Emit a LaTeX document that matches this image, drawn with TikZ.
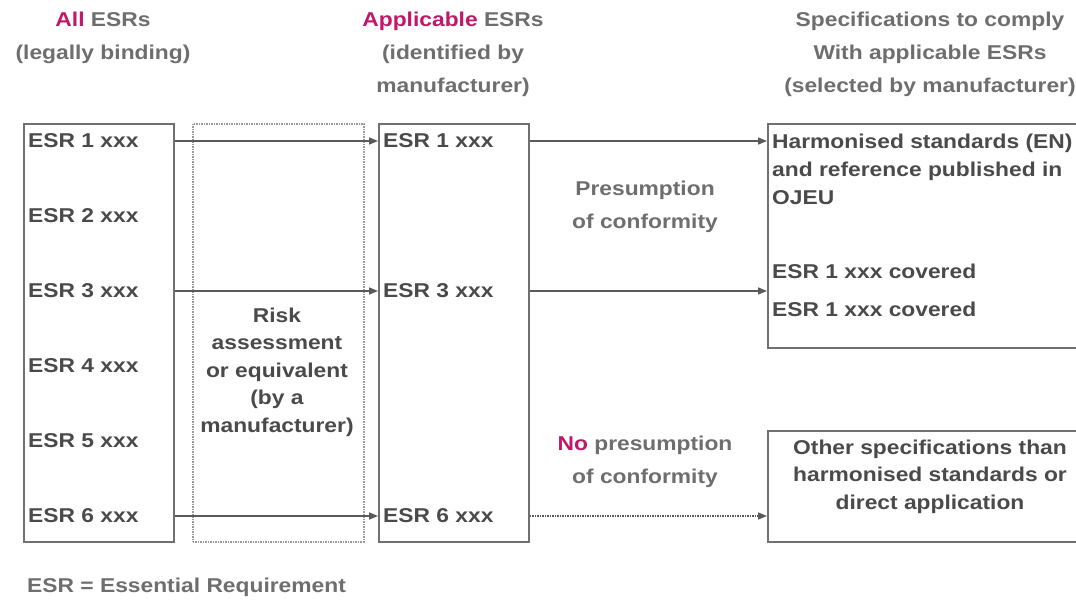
\documentclass[tikz,border=0pt]{standalone}
\usepackage{fontspec}
\setmainfont{Liberation Sans}[FakeStretch=1.14]
\usepackage{xcolor}
\usepackage{tikz}
\usetikzlibrary{arrows.meta,positioning}

\definecolor{esrpink}{HTML}{C0186A}
\definecolor{headgray}{HTML}{6E6E6E}
\definecolor{textgray}{HTML}{4A4A4A}
\definecolor{linegray}{HTML}{707070}
\definecolor{arrowgray}{HTML}{5A5A5A}

\begin{document}
\begin{tikzpicture}[
    x=1pt, y=-1pt,
    esrbox/.style={rectangle, draw=linegray, line width=1.8pt, anchor=north west, inner sep=0pt, minimum width=150pt, minimum height=418pt},
    riskbox/.style={rectangle, draw=gray!80, line width=1.5pt, densely dotted, anchor=north west, inner sep=0pt},
    specbox/.style={rectangle, draw=linegray, line width=1.8pt, anchor=north west, inner sep=0pt, minimum width=326pt},
    item/.style={anchor=west, inner sep=0pt, text=textgray, font=\fontsize{20}{28}\selectfont\bfseries},
    head/.style={anchor=north, inner sep=0pt, align=center, text=headgray, font=\fontsize{20}{33}\selectfont\bfseries},
    arrow/.style={-{Triangle[length=9pt, width=7pt]}, line width=1.5pt, draw=arrowgray}
]
\useasboundingbox (0,0) rectangle (1076,602);

% Column boxes
\node[esrbox] (allbox) at (23,123) {};
\node[riskbox, minimum width=171pt, minimum height=418pt] (risk) at (192,123) {};
\node[esrbox] (appbox) at (378,123) {};
\node[specbox, minimum height=224pt] (hsbox) at (767,123) {};
\node[specbox, minimum height=111pt] (otherbox) at (767,430) {};

% Headings
\node[head] (allhead) at (103,11.5) {{\color{esrpink}All} ESRs\\(legally binding)};
\node[head] (apphead) at (453,11.5) {{\color{esrpink}Applicable} ESRs\\(identified by\\manufacturer)};
\node[head] (spechead) at (930,11.5) {Specifications to comply\\With applicable ESRs\\(selected by manufacturer)};

% All ESRs
\foreach \i/\y in {1/141, 2/216, 3/291, 4/366, 5/441, 6/516}
  \node[item] (all\i) at (28,\y) {ESR \i\ xxx};

% Applicable ESRs
\foreach \i/\y in {1/141, 3/291, 6/516}
  \node[item] (app\i) at (383,\y) {ESR \i\ xxx};

% Risk assessment
\node[head, text=textgray, font=\fontsize{20}{27.5}\selectfont\bfseries] (risktext) at (277,307.5)
  {Risk\\assessment\\or equivalent\\(by a\\manufacturer)};

% Conformity labels
\node[head] (presum) at (645,180.5) {Presumption\\of conformity};
\node[head] (nopresum) at (645,435.5) {{\color{esrpink}No} presumption\\of conformity};

% Specifications
\node[head, anchor=north west, align=left, text=textgray, font=\fontsize{20}{28}\selectfont\bfseries] (hstext) at (772,133.5)
  {Harmonised standards (EN)\\and reference published in\\OJEU};
\node[item] (cov1) at (772,271) {ESR 1 xxx covered};
\node[item] (cov3) at (772,309) {ESR 1 xxx covered};
\node[head, text=textgray, font=\fontsize{20}{27.5}\selectfont\bfseries] (othertext) at (930,439.5)
  {Other specifications than\\harmonised standards or\\direct application};

% Arrows
\foreach \i in {1,3,6}
  \draw[arrow] (allbox.east |- all\i) -- (appbox.west |- app\i);
\draw[arrow] (appbox.east |- app1) -- (hsbox.west |- app1);
\draw[arrow] (appbox.east |- app3) -- (hsbox.west |- app3);
\draw[arrow, densely dotted] (appbox.east |- app6) -- (otherbox.west |- app6);

% Legend
\node[item, text=headgray] (legend) at (27,587) {ESR = Essential Requirement};
\end{tikzpicture}
\end{document}
